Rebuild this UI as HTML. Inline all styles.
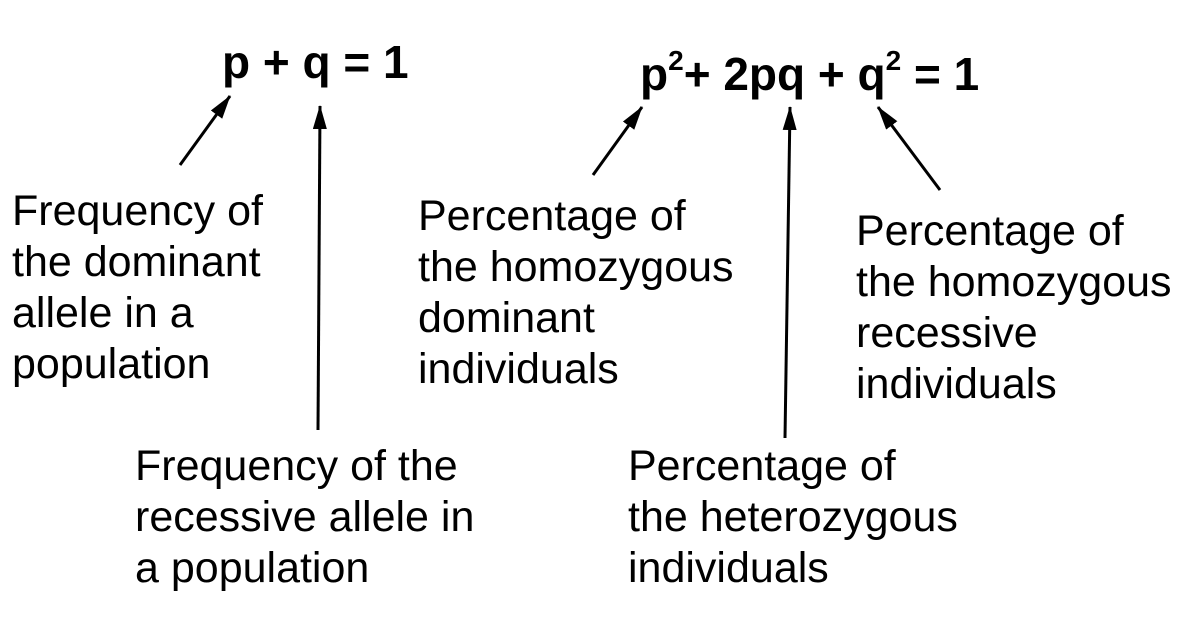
<!DOCTYPE html>
<html><head><meta charset="utf-8"><style>
html,body{margin:0;padding:0;background:#fff;}
svg{display:block;}
.lbl{font-family:"Liberation Sans",Arial,sans-serif;font-size:43px;fill:#000;}
.eq{font-family:"Liberation Sans",Arial,sans-serif;font-size:46px;font-weight:bold;fill:#000;}
</style></head><body>
<svg width="1194" height="620" viewBox="0 0 1194 620">
<defs><marker id="ah" markerWidth="26" markerHeight="16" refX="23" refY="7" orient="auto" markerUnits="userSpaceOnUse">
<path d="M0,0 L24,7 L0,14 z" fill="#000"/></marker></defs>
<text class="eq" x="222" y="78">p + q = 1</text>
<text class="eq" x="640" y="90">p<tspan font-size="28" dy="-20">2</tspan><tspan dy="20">+ 2pq + q</tspan><tspan font-size="28" dy="-20">2</tspan><tspan dy="20"> = 1</tspan></text>
<g stroke="#000" stroke-width="3" fill="none">
<line x1="180" y1="165" x2="230" y2="96" marker-end="url(#ah)"/>
<line x1="318" y1="430" x2="320" y2="106" marker-end="url(#ah)"/>
<line x1="593" y1="175" x2="642" y2="107" marker-end="url(#ah)"/>
<line x1="785" y1="438" x2="790" y2="107" marker-end="url(#ah)"/>
<line x1="940" y1="190" x2="878" y2="107" marker-end="url(#ah)"/>
</g>
<text class="lbl">
<tspan x="12" y="225">Frequency of</tspan><tspan x="12" y="276">the dominant</tspan><tspan x="12" y="327">allele in a</tspan><tspan x="12" y="378">population</tspan></text>
<text class="lbl">
<tspan x="135" y="480">Frequency of the</tspan><tspan x="135" y="531">recessive allele in</tspan><tspan x="135" y="582">a population</tspan></text>
<text class="lbl">
<tspan x="418" y="230">Percentage of</tspan><tspan x="418" y="281">the homozygous</tspan><tspan x="418" y="332">dominant</tspan><tspan x="418" y="383">individuals</tspan></text>
<text class="lbl">
<tspan x="856" y="245">Percentage of</tspan><tspan x="856" y="296">the homozygous</tspan><tspan x="856" y="347">recessive</tspan><tspan x="856" y="398">individuals</tspan></text>
<text class="lbl">
<tspan x="628" y="480">Percentage of</tspan><tspan x="628" y="531">the heterozygous</tspan><tspan x="628" y="582">individuals</tspan></text>
</svg>
</body></html>
